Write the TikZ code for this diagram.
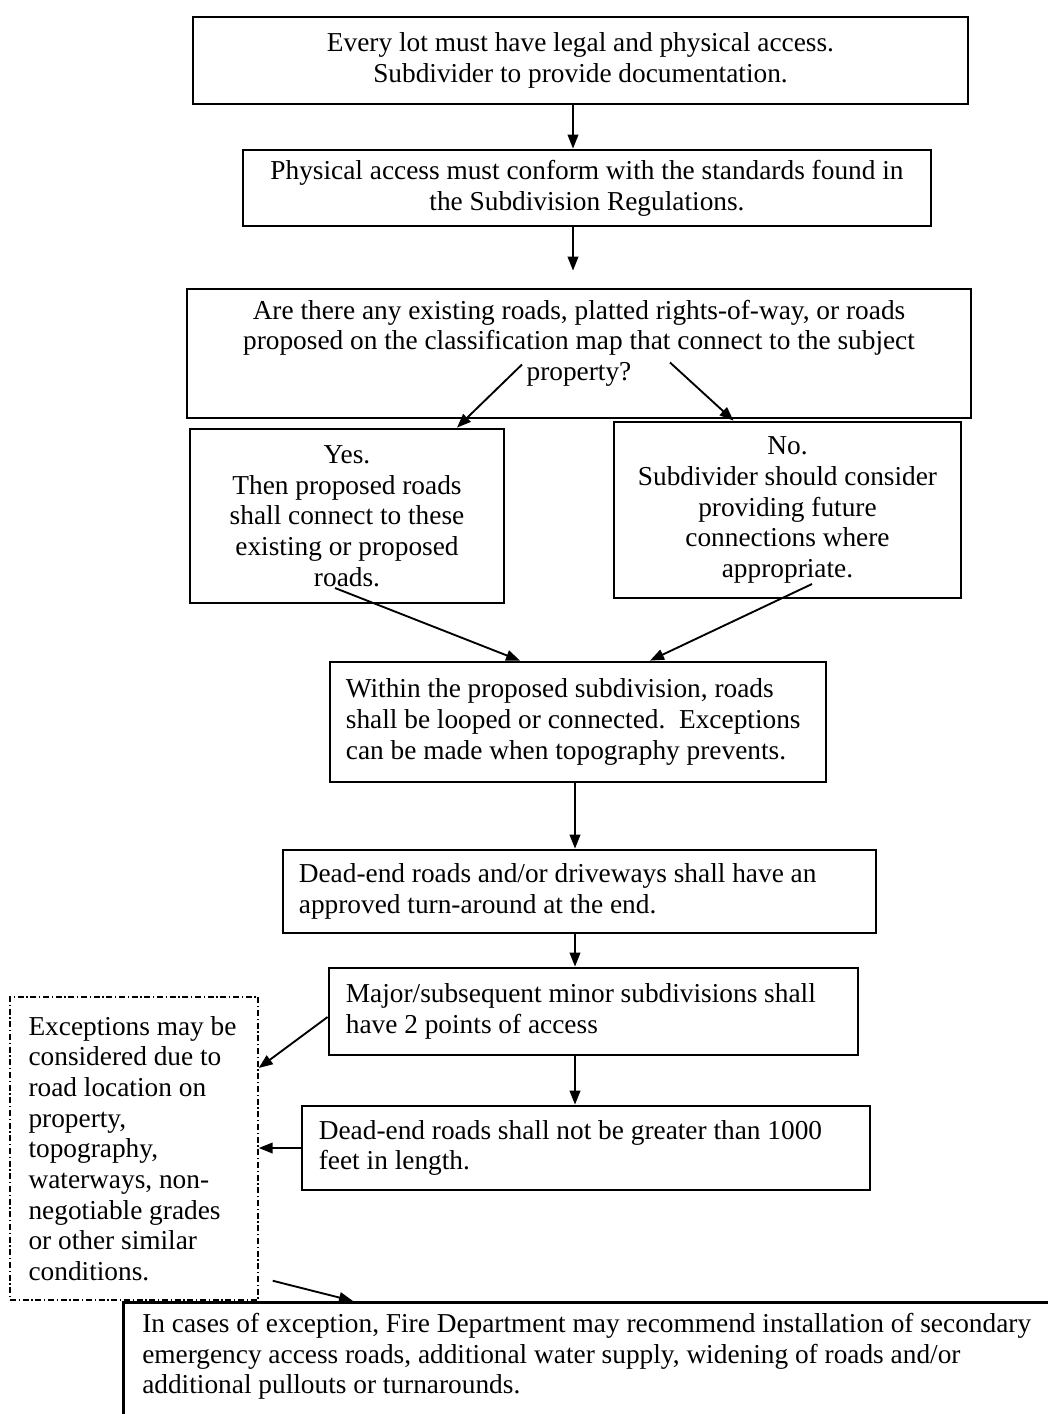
\documentclass[tikz,border=0pt]{standalone}
\usepackage{fontspec}
\setmainfont{Liberation Serif}
\usetikzlibrary{arrows.meta,calc}
\begin{document}
\begin{tikzpicture}[x=0.75pt,y=-0.75pt,
  box/.style={draw, line width=2.1pt, inner sep=0pt},
  dashbox/.style={draw, line width=1.1pt, inner sep=0pt, dash pattern=on 4.5pt off 2pt on 1pt off 2pt},
  txt/.style={inner sep=0pt, font=\fontsize{20.5pt}{23pt}\selectfont},
  arr/.style={line width=1.4pt, -{Triangle[length=10.5pt,width=8pt]}}
]
\useasboundingbox (0,0) rectangle (1047,1414);
\coordinate (ax) at (573,0);
\coordinate (bx) at (575,0);

% boxes
\node[box, minimum width=581.25pt, minimum height=65.25pt] (b1) at (580.5,60.5) {};
\node[txt, align=center] (b1t) at (b1.center) {Every lot must have legal and physical access.\\Subdivider to provide documentation.};

\node[box, minimum width=516pt, minimum height=57pt] (b2) at (587,188) {};
\node[txt, align=center] (b2t) at (b2.center) {Physical access must conform with the standards found in\\the Subdivision Regulations.};

\node[box, minimum width=588pt, minimum height=96.75pt] (b3) at (579,353.5) {};
\node[txt, align=center, anchor=north] (b3t) at ($(b3.north)+(0,12)$) {Are there any existing roads, platted rights-of-way, or roads\\proposed on the classification map that connect to the subject\\property?};

\node[box, minimum width=235.5pt, minimum height=130.5pt] (yes) at (347,516) {};
\node[txt, align=center] (yest) at (yes.center) {Yes.\\Then proposed roads\\shall connect to these\\existing or proposed\\roads.};

\node[box, minimum width=260.25pt, minimum height=132pt] (no) at (787.5,510) {};
\node[txt, align=center] (not) at (no.center) {No.\\Subdivider should consider\\providing future\\connections where\\appropriate.};

\node[box, minimum width=372pt, minimum height=90pt] (within) at (578,722) {};
\node[txt, align=left, anchor=west] (withint) at ($(within.west)+(17,0)$) {Within the proposed subdivision, roads\\shall be looped or connected.\ \ Exceptions\\can be made when topography prevents.};

\node[box, minimum width=444.75pt, minimum height=62.25pt] (de1) at (579.5,891.5) {};
\node[txt, align=left, anchor=west] (de1t) at ($(de1.west)+(17,0)$) {Dead-end roads and/or driveways shall have an\\approved turn-around at the end.};

\node[box, minimum width=396.75pt, minimum height=65.25pt] (major) at (593.5,1011.5) {};
\node[txt, align=left, anchor=west] (majort) at ($(major.west)+(18,0)$) {Major/subsequent minor subdivisions shall\\have 2 points of access};

\node[box, minimum width=426pt, minimum height=63pt] (de2) at (586,1148) {};
\node[txt, align=left, anchor=west] (de2t) at ($(de2.west)+(18,0)$) {Dead-end roads shall not be greater than 1000\\feet in length.};

\node[dashbox, minimum width=186pt, minimum height=227.25pt] (exc) at (134,1148.5) {};
\node[txt, align=left, anchor=west] (exct) at ($(exc.west)+(19,0)$) {Exceptions may be\\considered due to\\road location on\\property,\\topography,\\waterways, non-\\negotiable grades\\or other similar\\conditions.};

\node[box, anchor=north west, minimum width=720pt, minimum height=105pt] (bot) at (122,1301) {};
\node[txt, align=left, anchor=north west] (bott) at ($(bot.north west)+(20,12)$) {In cases of exception, Fire Department may recommend installation of secondary\\emergency access roads, additional water supply, widening of roads and/or\\additional pullouts or turnarounds.};

% connectors
\draw[arr] (b1.south -| ax) -- (b2.north -| ax);
\draw[arr] (b2.south -| ax) -- ($(b3.north -| ax)+(0,-17)$);
\draw[arr] ($(b3.center)+(-57,11)$) -- ($(yes.north)+(110,0)$);
\draw[arr] ($(b3.center)+(91,9)$) -- ($(no.north)+(-54,0)$);
\draw[arr] ($(yes.center)+(-12,72)$) -- ($(within.north)+(-58,0)$);
\draw[arr] ($(no.center)+(24.5,74)$) -- ($(within.north)+(72,0)$);
\draw[arr] (within.south -| bx) -- (de1.north -| bx);
\draw[arr] (de1.south -| bx) -- (major.north -| bx);
\draw[arr] (major.south -| bx) -- (de2.north -| bx);
\draw[arr] ($(major.west)+(0,5.5)$) -- ($(exc.east)+(0,-80.5)$);
\draw[arr] (de2.west) -- (de2.west -| exc.east);
\draw[arr] ($(exc.south east)+(14,-20)$) -- ($(bot.north west)+(231,0)$);
\end{tikzpicture}
\end{document}
